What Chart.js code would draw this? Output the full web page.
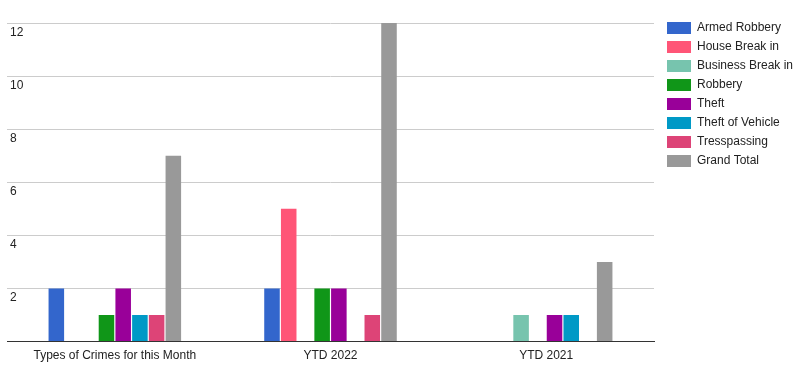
<!DOCTYPE html>
<html>
<head>
<meta charset="utf-8">
<script src="https://cdn.jsdelivr.net/npm/chart.js@4/dist/chart.umd.min.js"></script>
<style>
html,body{margin:0;padding:0;background:#fff;}
#wrap{width:800px;height:381px;position:relative;}
</style>
</head>
<body>
<div id="wrap"><canvas id="c" width="800" height="381"></canvas></div>
<script>
const categories = ["Types of Crimes for this Month", "YTD 2022", "YTD 2021"];
const seriesNames = ["Armed Robbery", "House Break in", "Business Break in", "Robbery", "Theft", "Theft of Vehicle", "Tresspassing", "Grand Total"];
const armedRobbery    = [2, 2, 0];
const houseBreakIn    = [0, 5, 0];
const businessBreakIn = [0, 0, 1];
const robbery         = [1, 2, 0];
const theft           = [2, 2, 1];
const theftOfVehicle  = [1, 0, 1];
const tresspassing    = [1, 1, 0];
const grandTotal      = [7, 12, 3];
const yTicks = [0, 2, 4, 6, 8, 10, 12];

const seriesValues = [armedRobbery, houseBreakIn, businessBreakIn, robbery, theft, theftOfVehicle, tresspassing, grandTotal];
const colors = ["#3366CC", "#FF5577", "#77C4AE", "#109618", "#990099", "#0099C6", "#DD4477", "#999999"];

const FONT = "Arial, 'Liberation Sans', sans-serif";

new Chart(document.getElementById('c'), {
  type: 'bar',
  data: {
    labels: categories,
    datasets: seriesNames.map((n, i) => ({
      label: n,
      data: seriesValues[i],
      backgroundColor: colors[i],
      borderWidth: 0,
      barPercentage: 0.93,
      categoryPercentage: 0.62
    }))
  },
  options: {
    responsive: false,
    animation: false,
    layout: { padding: { top: 15, left: 1, right: 0, bottom: 11 } },
    plugins: {
      tooltip: { enabled: false },
      legend: {
        position: 'right',
        align: 'start',
        maxWidth: 140,
        labels: {
          boxWidth: 24,
          boxHeight: 12,
          padding: 7,
          color: '#222',
          font: { family: FONT, size: 12 }
        }
      }
    },
    scales: {
      x: {
        grid: { display: false, drawTicks: false },
        border: { display: true, color: '#333', width: 1 },
        ticks: { color: '#222', padding: 7, font: { family: FONT, size: 12 }, maxRotation: 0 }
      },
      y: {
        min: yTicks[0],
        max: yTicks[yTicks.length - 1],
        afterBuildTicks: s => { s.ticks = yTicks.map(v => ({ value: v })); },
        afterFit: s => { s.paddingTop = 23; },
        grid: { color: '#cccccc', lineWidth: 1, drawTicks: false },
        border: { display: false },
        ticks: {
          mirror: true,
          padding: 3,
          labelOffset: 9.5,
          color: '#222',
          font: { family: FONT, size: 12 },
          callback: v => (v === 0 ? '' : String(v))
        }
      },
      yR: {
        position: 'right',
        display: true,
        grid: { display: false, drawTicks: false },
        border: { display: false },
        ticks: { display: false },
        afterFit: s => { s.width = 6; }
      }
    }
  }
});
</script>
</body>
</html>
